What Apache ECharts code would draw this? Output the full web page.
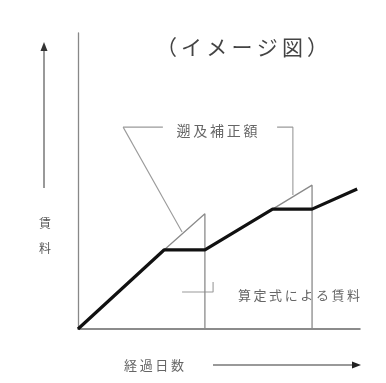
<!DOCTYPE html>
<html><head><meta charset="utf-8">
<script src="https://cdn.jsdelivr.net/npm/echarts@6/dist/echarts.min.js"></script>
<style>html,body{margin:0;padding:0;background:#fff}#c{width:386px;height:383px}</style>
</head><body><div id="c"></div>
<script>
// Values (abstract units: elapsed days 0-100, rent 0-100)
const days = [0, 30.5, 45, 69, 83, 99];
const rent = [0, 26.7, 26.7, 40.5, 40.5, 47.3];
// retroactive correction: rent would have kept rising from kink until revision day
const kinkDays = [30.5, 69];
const kinkRent = [26.7, 40.5];
const revisionDays = [45, 83];
const correctedRent = [38.9, 48.6];

const titleText = '（\u2009イ\u2009メ\u2009ー\u2009ジ\u2009図\u2009）';
const yLabel = '賃\n料';
const xLabel = '経\u2009過\u2009日\u2009数';
const corrLabel = '遡\u2009及\u2009補\u2009正\u2009額';
const formulaLabel = '算\u2009定\u2009式\u2009に\u2009よ\u2009る\u2009賃\u2009料';

const FONT = '"Noto Sans CJK JP", "Noto Sans", sans-serif';
const chart = echarts.init(document.getElementById('c'), null, {renderer: 'canvas'});

const series = [];
series.push({
  type: 'line', data: days.map((d, i) => [d, rent[i]]), symbol: 'none',
  lineStyle: {color: '#111', width: 3.2}, z: 5, silent: true
});
kinkDays.forEach((k, i) => {
  series.push({
    type: 'line', symbol: 'none', silent: true, z: 3,
    data: [[k, kinkRent[i]], [revisionDays[i], correctedRent[i]], [revisionDays[i], 0]],
    lineStyle: {color: '#8a8a8a', width: 1.3}
  });
});
// leader lines for the annotations
const leaderStyle = {color: '#9a9a9a', width: 1.1};
const leaders = [
  [[16, 68.2], [30.1, 68.2]],
  [[16, 68.2], [36.9, 32.8]],
  [[70.6, 68.2], [76.2, 68.2], [76.2, 45.3]],
  [[36.9, 12.5], [47.9, 12.5], [47.9, 15.9]]
];
leaders.forEach(l => series.push({type: 'line', symbol: 'none', silent: true, z: 2, data: l, lineStyle: leaderStyle}));

const txt = (x, y, text, size, extra) => Object.assign({
  type: 'text', x: x, y: y,
  style: Object.assign({text: text, font: 'normal ' + size + 'px ' + FONT, fill: '#555', textAlign: 'center', textVerticalAlign: 'middle'}, extra || {})
});

chart.setOption({
  animation: false,
  backgroundColor: '#fff',
  grid: {left: 78, top: 33, width: 282, height: 296},
  xAxis: {type: 'value', min: 0, max: 100, axisLine: {show: true, lineStyle: {color: '#666', width: 1.5}},
    axisTick: {show: false}, axisLabel: {show: false}, splitLine: {show: false}},
  yAxis: {type: 'value', min: 0, max: 100, axisLine: {show: true, lineStyle: {color: '#888', width: 1.3}},
    axisTick: {show: false}, axisLabel: {show: false}, splitLine: {show: false}},
  series: series,
  graphic: [
    txt(242, 47, titleText, 21, {fill: '#444'}),
    txt(217, 131, corrLabel, 14, {fill: '#666'}),
    txt(299, 295, formulaLabel, 13, {fill: '#666'}),
    txt(154, 365, xLabel, 13, {fill: '#666'}),
    txt(45, 236, yLabel, 12, {fill: '#555', lineHeight: 25}),
    {type: 'line', shape: {x1: 44, y1: 188, x2: 44, y2: 50}, style: {stroke: '#777', lineWidth: 1.5}},
    {type: 'polygon', shape: {points: [[44, 42], [40.5, 51], [47.5, 51]]}, style: {fill: '#333'}},
    {type: 'line', shape: {x1: 213, y1: 365, x2: 352, y2: 365}, style: {stroke: '#777', lineWidth: 1.5}},
    {type: 'polygon', shape: {points: [[361, 365], [352, 361.5], [352, 368.5]]}, style: {fill: '#222'}}
  ]
});
</script></body></html>
